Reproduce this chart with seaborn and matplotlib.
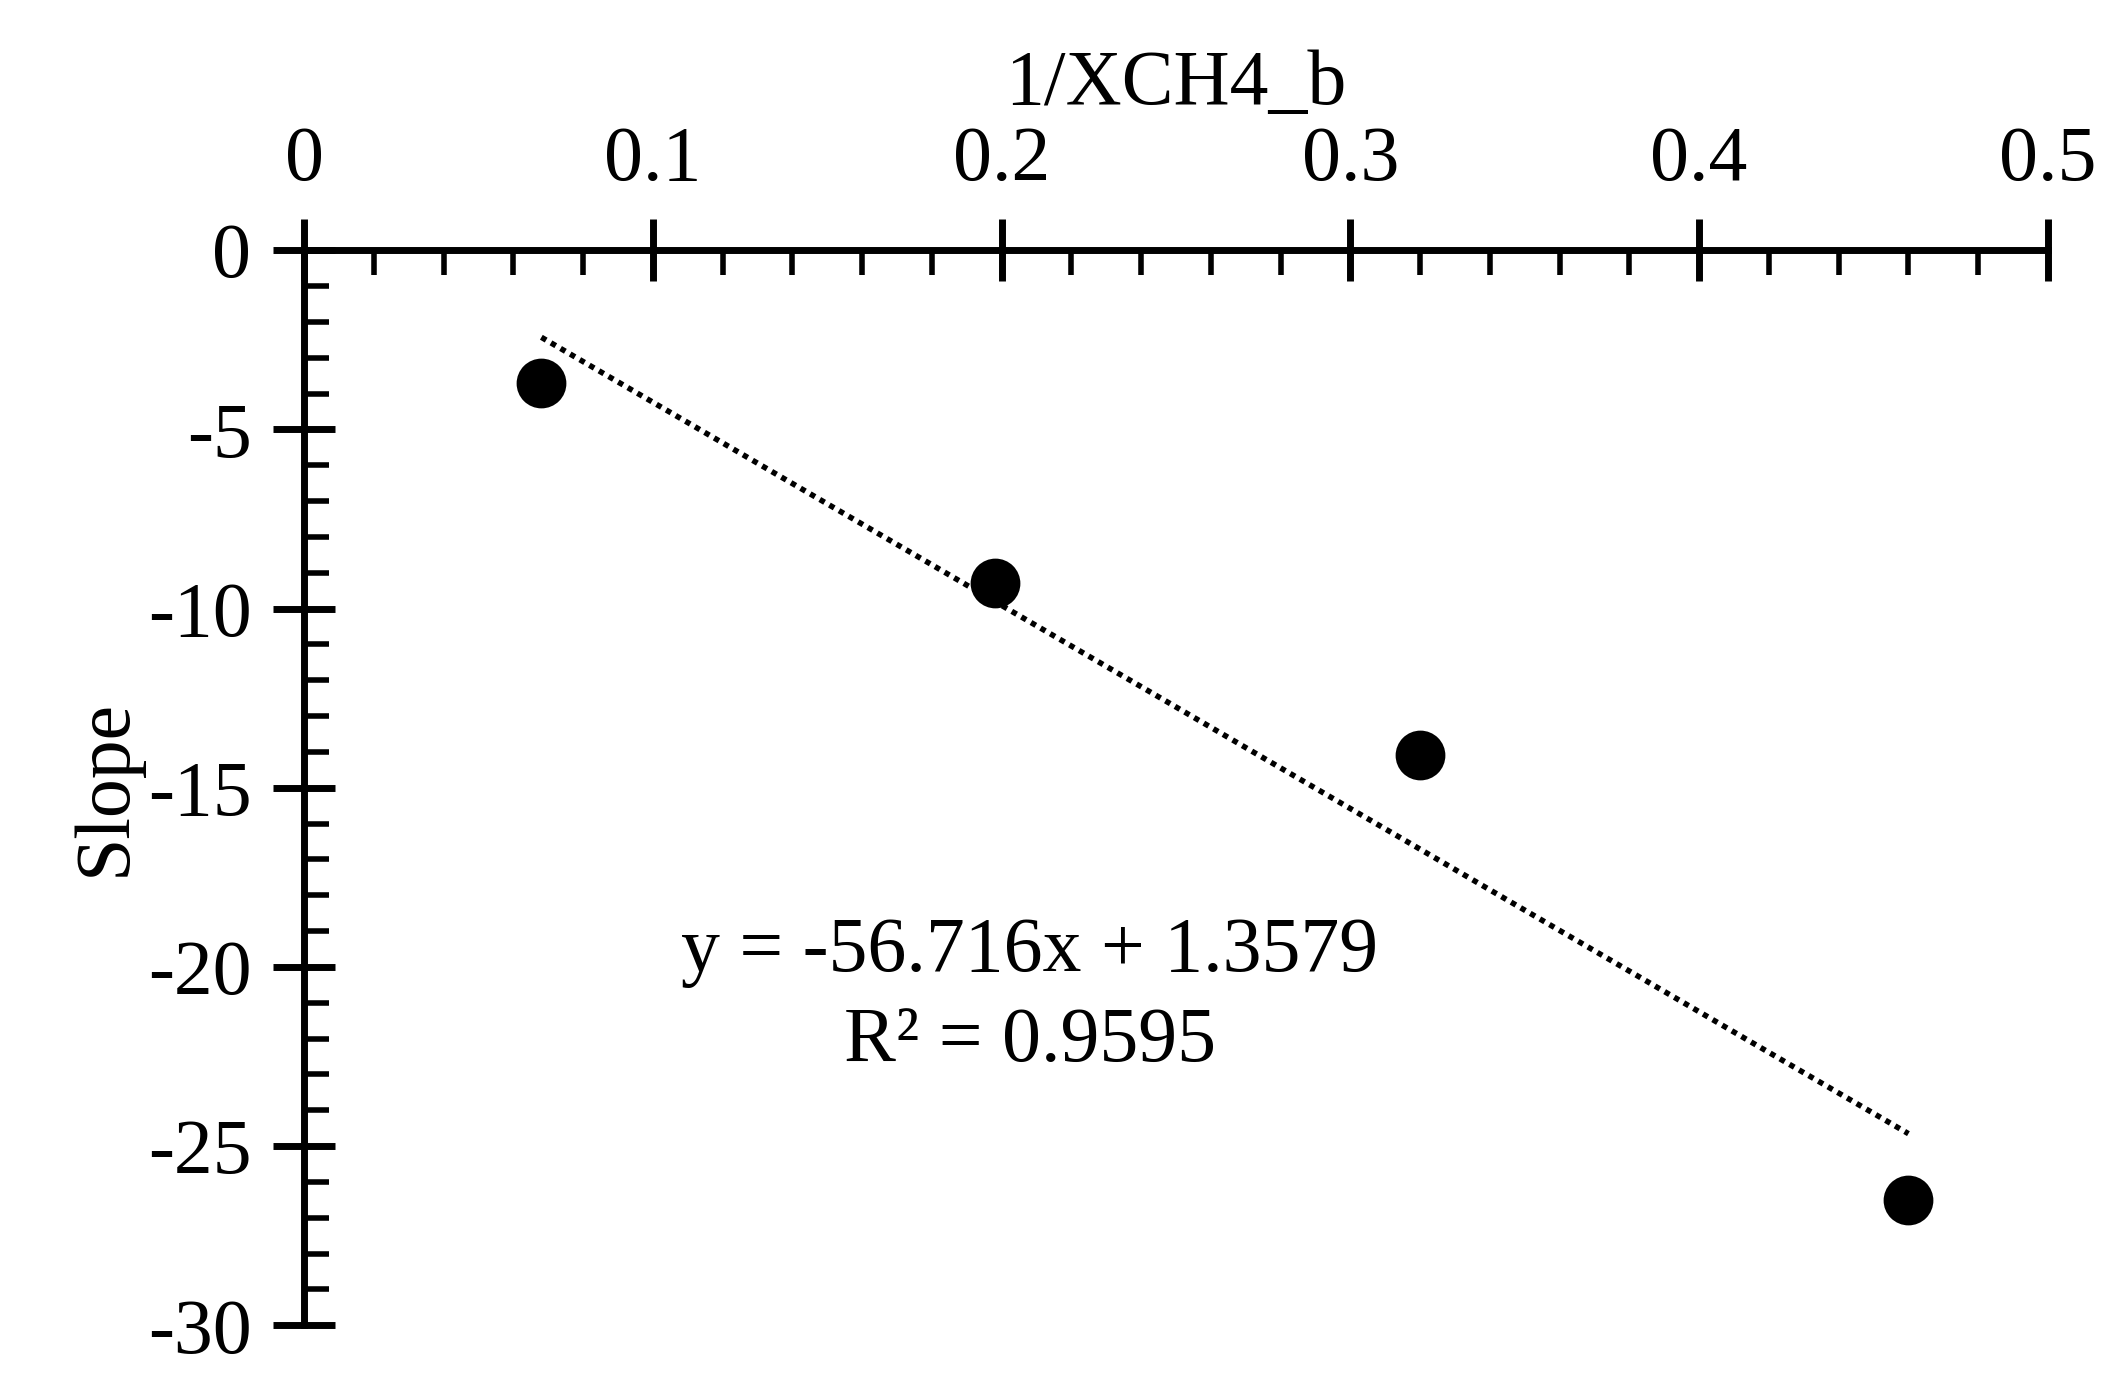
import numpy as np
import matplotlib.pyplot as plt
import seaborn as sns
from matplotlib.ticker import MultipleLocator

sns.set_style("white")
plt.rcParams['font.family'] = ['Liberation Serif', 'DejaVu Serif']
plt.rcParams['text.color'] = 'black'
plt.rcParams['axes.labelcolor'] = 'black'
plt.rcParams['xtick.color'] = 'black'
plt.rcParams['ytick.color'] = 'black'

inv_xch4 = [0.068, 0.198, 0.320, 0.460]
slope = [-3.7, -9.3, -14.1, -26.5]

fig = plt.figure(figsize=(21.2, 13.82), dpi=100)
ax = fig.add_axes([0.1435, 0.041, 0.8225, 0.778])

sns.scatterplot(x=inv_xch4, y=slope, ax=ax, color='black', s=1100,
                edgecolor='black', zorder=3)

m, b = np.polyfit(inv_xch4, slope, 1)
xs = np.array([inv_xch4[0], inv_xch4[-1]])
ax.plot(xs, m * xs + b, color='black', linestyle=(0, (1, 1)), linewidth=4)
ax.text(0.208, -19.6, 'y = -56.716x + 1.3579', fontsize=56, ha='center', va='center')
ax.text(0.208, -22.1, 'R² = 0.9595', fontsize=56, ha='center', va='center')

ax.set_xlim(0, 0.5)
ax.set_ylim(-30, 0)
ax.xaxis.set_minor_locator(MultipleLocator(0.02))
ax.yaxis.set_minor_locator(MultipleLocator(1))
ax.xaxis.tick_top()
ax.xaxis.set_label_position('top')
ax.set_xticks(np.arange(0, 0.51, 0.1))
ax.set_xticklabels(['0', '0.1', '0.2', '0.3', '0.4', '0.5'])
ax.set_yticks(np.arange(-30, 1, 5))
ax.set_yticklabels(['-30', '-25', '-20', '-15', '-10', '-5', '0'])
for sp in ['bottom', 'right']:
    ax.spines[sp].set_visible(False)
for sp in ['top', 'left']:
    ax.spines[sp].set_linewidth(5)
    ax.spines[sp].set_color('black')
ax.tick_params(which='major', direction='inout', length=44, width=5, labelsize=56, pad=16)
ax.tick_params(which='minor', direction='in', length=18, width=4)
ax.tick_params(axis='x', which='both', top=True, bottom=False)
ax.tick_params(axis='y', which='both', left=True, right=False)
ax.set_xlabel('1/XCH4_b', fontsize=56, labelpad=16)
ax.set_ylabel('Slope', fontsize=56, labelpad=4)

fig.savefig('out.png', dpi=100)
